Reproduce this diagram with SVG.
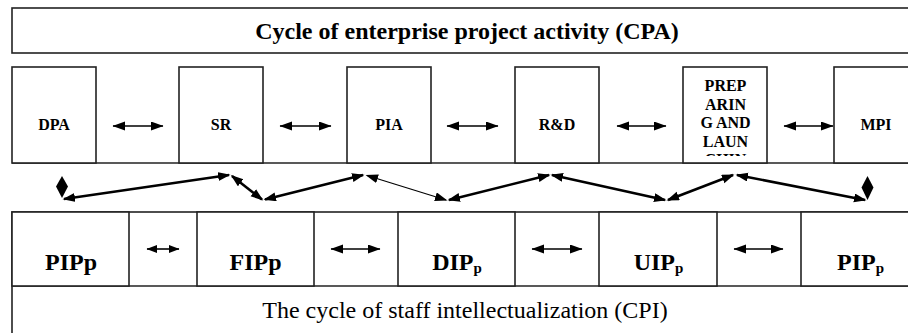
<svg xmlns="http://www.w3.org/2000/svg" width="908" height="333" viewBox="0 0 908 333">
<style>
.box{fill:#fff;stroke:#222;stroke-width:1.6}
.ln{stroke:#222;stroke-width:1.6;fill:none}
.tb{font-family:"Liberation Serif","Times New Roman",serif;font-weight:bold;fill:#000}
.tr{font-family:"Liberation Serif","Times New Roman",serif;fill:#000}
.s{font-size:16px;text-anchor:middle}
.b{font-size:24px;text-anchor:middle}
.thick{stroke:#000;stroke-width:2.6;fill:none;marker-start:url(#ah);marker-end:url(#ah)}
.thin{stroke:#000;stroke-width:1.2;fill:none;marker-start:url(#ah);marker-end:url(#ah)}
.h{stroke:#000;stroke-width:1.6;fill:none;marker-start:url(#ah2);marker-end:url(#ah2)}
.hs{stroke:#000;stroke-width:1.6;fill:none;marker-start:url(#ah3);marker-end:url(#ah3)}
.dm{fill:#000}
</style>
<defs>
<marker id="ah" markerUnits="userSpaceOnUse" markerWidth="14" markerHeight="10" refX="11" refY="4.5" orient="auto-start-reverse"><path d="M0,0 L12.5,4.5 L0,9 z" fill="#000"/></marker>
<marker id="ah2" markerUnits="userSpaceOnUse" markerWidth="14" markerHeight="10" refX="12" refY="4.5" orient="auto-start-reverse"><path d="M0,0 L12.5,4.5 L0,9 z" fill="#000"/></marker>
<marker id="ah3" markerUnits="userSpaceOnUse" markerWidth="12" markerHeight="10" refX="10" refY="4" orient="auto-start-reverse"><path d="M0,0 L10.5,4 L0,8 z" fill="#000"/></marker>
<clipPath id="clipPrep"><rect x="683" y="67" width="84" height="89"/></clipPath>
</defs>
<rect width="908" height="333" fill="#fff"/>

<g id="cpa">
<rect class="box" x="12" y="8" width="920" height="45"/>
<text class="tb b" x="467" y="39">Cycle of enterprise project activity (CPA)</text>
</g>

<line class="ln" x1="12" y1="163" x2="920" y2="163"/>

<g id="dpa"><rect class="box" x="12" y="67" width="84" height="96"/><text class="tb s" x="54" y="130">DPA</text></g>
<g id="sr"><rect class="box" x="179" y="67" width="84" height="96"/><text class="tb s" x="221" y="130">SR</text></g>
<g id="pia"><rect class="box" x="347" y="67" width="84" height="96"/><text class="tb s" x="389" y="130">PIA</text></g>
<g id="rd"><rect class="box" x="515" y="67" width="84" height="96"/><text class="tb s" x="557" y="130">R&amp;D</text></g>
<g id="prep"><rect class="box" x="683" y="67" width="84" height="96"/>
<g clip-path="url(#clipPrep)">
<text class="tb s" x="725.5" y="91">PREP</text>
<text class="tb s" x="725.5" y="109.5">ARIN</text>
<text class="tb s" x="725.5" y="128">G AND</text>
<text class="tb s" x="725.5" y="146.5">LAUN</text>
<text class="tb s" x="725.5" y="165">CHIN</text>
</g></g>
<g id="mpi"><rect class="box" x="834" y="67" width="84" height="96"/><text class="tb s" x="876" y="130">MPI</text></g>

<g id="cpi">
<rect class="box" x="12" y="212" width="920" height="140"/>
<line class="ln" x1="12" y1="286" x2="920" y2="286"/>
<text class="tr b" x="465" y="318">The cycle of staff intellectualization (CPI)</text>
</g>
<g id="pipp1"><rect class="box" x="12" y="212" width="117" height="74"/><text class="tb b" x="71" y="270">PIPp</text></g>
<g id="fipp"><rect class="box" x="197" y="212" width="117" height="74"/><text class="tb b" x="255.5" y="270">FIPp</text></g>
<g id="dipp"><rect class="box" x="398" y="212" width="117" height="74"/><text class="tb b" x="457" y="270">DIP<tspan font-size="15" dy="3">p</tspan></text></g>
<g id="uipp"><rect class="box" x="599" y="212" width="118" height="74"/><text class="tb b" x="658.5" y="270">UIP<tspan font-size="15" dy="3">p</tspan></text></g>
<g id="pipp2"><rect class="box" x="801" y="212" width="119" height="74"/><text class="tb b" x="860.5" y="270">PIP<tspan font-size="15" dy="3">p</tspan></text></g>

<g id="connectors">
<line class="h" x1="113" y1="126" x2="163" y2="126"/>
<line class="h" x1="280" y1="126" x2="331" y2="126"/>
<line class="h" x1="447" y1="126" x2="498" y2="126"/>
<line class="h" x1="617" y1="126" x2="666" y2="126"/>
<line class="h" x1="784" y1="126" x2="833" y2="126"/>

<line class="hs" x1="147" y1="249" x2="179" y2="249"/>
<line class="h" x1="331" y1="249" x2="380" y2="249"/>
<line class="h" x1="532" y1="249" x2="582" y2="249"/>
<line class="h" x1="734" y1="249" x2="783" y2="249"/>

<polygon class="dm" points="62,176 68,186.5 62,198 56,186.5"/>
<polygon class="dm" points="867.5,176 873.5,187.5 867.5,200 861.5,187.5"/>

<line class="thick" x1="64" y1="199" x2="229" y2="175"/>
<line class="thick" x1="232" y1="176" x2="262" y2="199.5"/>
<line class="thick" x1="265" y1="199.5" x2="363" y2="175"/>
<line class="thin" x1="367" y1="175.5" x2="446" y2="200"/>
<line class="thick" x1="449" y1="200" x2="549" y2="175"/>
<line class="thick" x1="552" y1="175" x2="665" y2="200"/>
<line class="thick" x1="668" y1="200" x2="733" y2="175"/>
<line class="thick" x1="737" y1="175" x2="865" y2="200"/>
</g>
</svg>
